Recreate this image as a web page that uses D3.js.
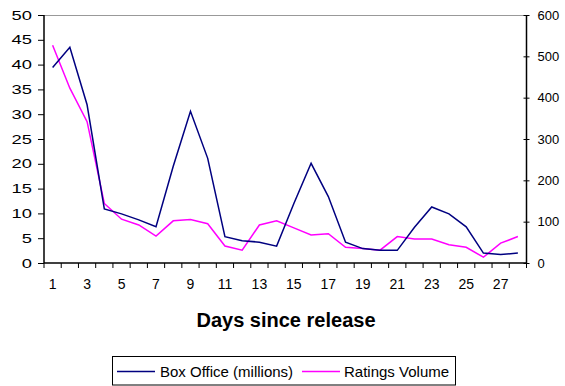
<!DOCTYPE html>
<html>
<head>
<meta charset="utf-8">
<script src="https://cdn.jsdelivr.net/npm/d3@7"></script>
<style>
  body { margin: 0; background: #fff; }
  svg { display: block; font-family: "Liberation Sans", Arial, sans-serif; }
</style>
</head>
<body>
<svg id="chart" width="565" height="386"></svg>
<script>
// Days since release
const days = d3.range(1, 29);
// Box office per day, millions (left axis)
const boxOffice = [39.4, 43.5, 31.9, 10.9, 9.9, 8.7, 7.3, 19.5, 30.6, 21.1,
  5.3, 4.5, 4.2, 3.4, 12.0, 20.1, 13.4, 4.2, 2.9, 2.55,
  2.55, 7.2, 11.3, 9.9, 7.3, 2.0, 1.7, 2.0];
// Ratings volume per day (right axis)
const ratingsVolume = [527, 423, 342, 144, 106, 92, 65, 102, 105, 95,
  41, 31, 92, 102, 85, 68, 71, 38, 35, 31,
  64, 58, 58, 44, 38, 14, 48, 64];
const leftTicks = [0, 5, 10, 15, 20, 25, 30, 35, 40, 45, 50];
const rightTicks = [0, 100, 200, 300, 400, 500, 600];
const xLabels = days.filter(d => d % 2 === 1);
const seriesNames = ["Box Office (millions)", "Ratings Volume"];
const colors = ["#000080", "#FF00FF"];

const svg = d3.select("#chart");
const plot = { left: 44, right: 526.5, top: 15, bottom: 263 };

const x = d3.scaleBand().domain(days).range([plot.left, plot.right]);
const yL = d3.scaleLinear().domain([0, 50]).range([plot.bottom, plot.top]);
const yR = d3.scaleLinear().domain([0, 600]).range([plot.bottom, plot.top]);

// top border of the plot area
svg.append("line")
  .attr("x1", plot.left).attr("x2", plot.right).attr("y1", plot.top + 0.5).attr("y2", plot.top + 0.5)
  .attr("stroke", "#999").attr("stroke-width", 1);

// left axis (wide digits)
const gL = svg.append("g").attr("transform", `translate(${plot.left},0)`)
  .call(d3.axisLeft(yL).tickValues(leftTicks).tickSize(6).tickPadding(6).tickFormat(d3.format("d")));
// right axis (ticks crossing the line)
const gR = svg.append("g").attr("transform", `translate(${plot.right},0)`)
  .call(d3.axisRight(yR).tickValues(rightTicks).tickSize(3).tickPadding(8).tickFormat(d3.format("d")));
gR.selectAll(".tick line").attr("x1", -3);

// bottom axis: ticks between categories, labels on odd days
const gB = svg.append("g").attr("transform", `translate(0,${plot.bottom})`)
  .call(d3.axisBottom(x).tickSize(0).tickPadding(16).tickFormat(d => xLabels.includes(d) ? d : ""));
gB.selectAll(".tick").filter(d => !xLabels.includes(d)).remove();
gB.selectAll(".sep").data(d3.range(0, days.length + 1)).enter().append("line")
  .attr("class", "sep")
  .attr("x1", i => plot.left + i * x.step()).attr("x2", i => plot.left + i * x.step())
  .attr("y1", 0).attr("y2", 5).attr("stroke", "#000");

[gL, gR, gB].forEach(g => {
  g.select(".domain").attr("stroke", "#000").attr("stroke-width", 1.5);
  g.selectAll("text").attr("font-size", 13).attr("fill", "#000")
    .attr("font-family", "'Liberation Sans', Arial, sans-serif");
  g.selectAll(".tick line").attr("stroke", "#000");
});
gB.selectAll("text").attr("font-size", 14);
gL.selectAll(".tick text")
  .attr("textLength", d => String(d).length * 10.2)
  .attr("lengthAdjust", "spacingAndGlyphs");
gR.select(".domain").attr("d", `M0,${plot.top}V${plot.bottom}`);
gL.select(".domain").attr("d", `M0,${plot.top}V${plot.bottom}`);
gB.select(".domain").attr("d", `M${plot.left},0H${plot.right}`);

const cx = d => x(d) + x.bandwidth() / 2;
const lineL = d3.line().x((d, i) => cx(days[i])).y(d => yL(d));
const lineR = d3.line().x((d, i) => cx(days[i])).y(d => yR(d));

svg.append("path").datum(ratingsVolume).attr("d", lineR)
  .attr("fill", "none").attr("stroke", colors[1]).attr("stroke-width", 1.5);
svg.append("path").datum(boxOffice).attr("d", lineL)
  .attr("fill", "none").attr("stroke", colors[0]).attr("stroke-width", 1.5);

// axis title
svg.append("text").attr("x", 286).attr("y", 327).attr("text-anchor", "middle")
  .attr("font-size", 20).attr("font-weight", "bold").text("Days since release");

// legend
const lg = svg.append("g");
lg.append("rect").attr("x", 112.5).attr("y", 356.5).attr("width", 343).attr("height", 28.5)
  .attr("fill", "#fff").attr("stroke", "#000").attr("stroke-width", 1);
const items = [{x: 117, tx: 160}, {x: 302, tx: 344}];
items.forEach((it, i) => {
  lg.append("line").attr("x1", it.x).attr("x2", it.x + 38).attr("y1", 371.5).attr("y2", 371.5)
    .attr("stroke", colors[i]).attr("stroke-width", 1.5);
  lg.append("text").attr("x", it.tx).attr("y", 377).attr("font-size", 15).text(seriesNames[i]);
});
</script>
</body>
</html>
